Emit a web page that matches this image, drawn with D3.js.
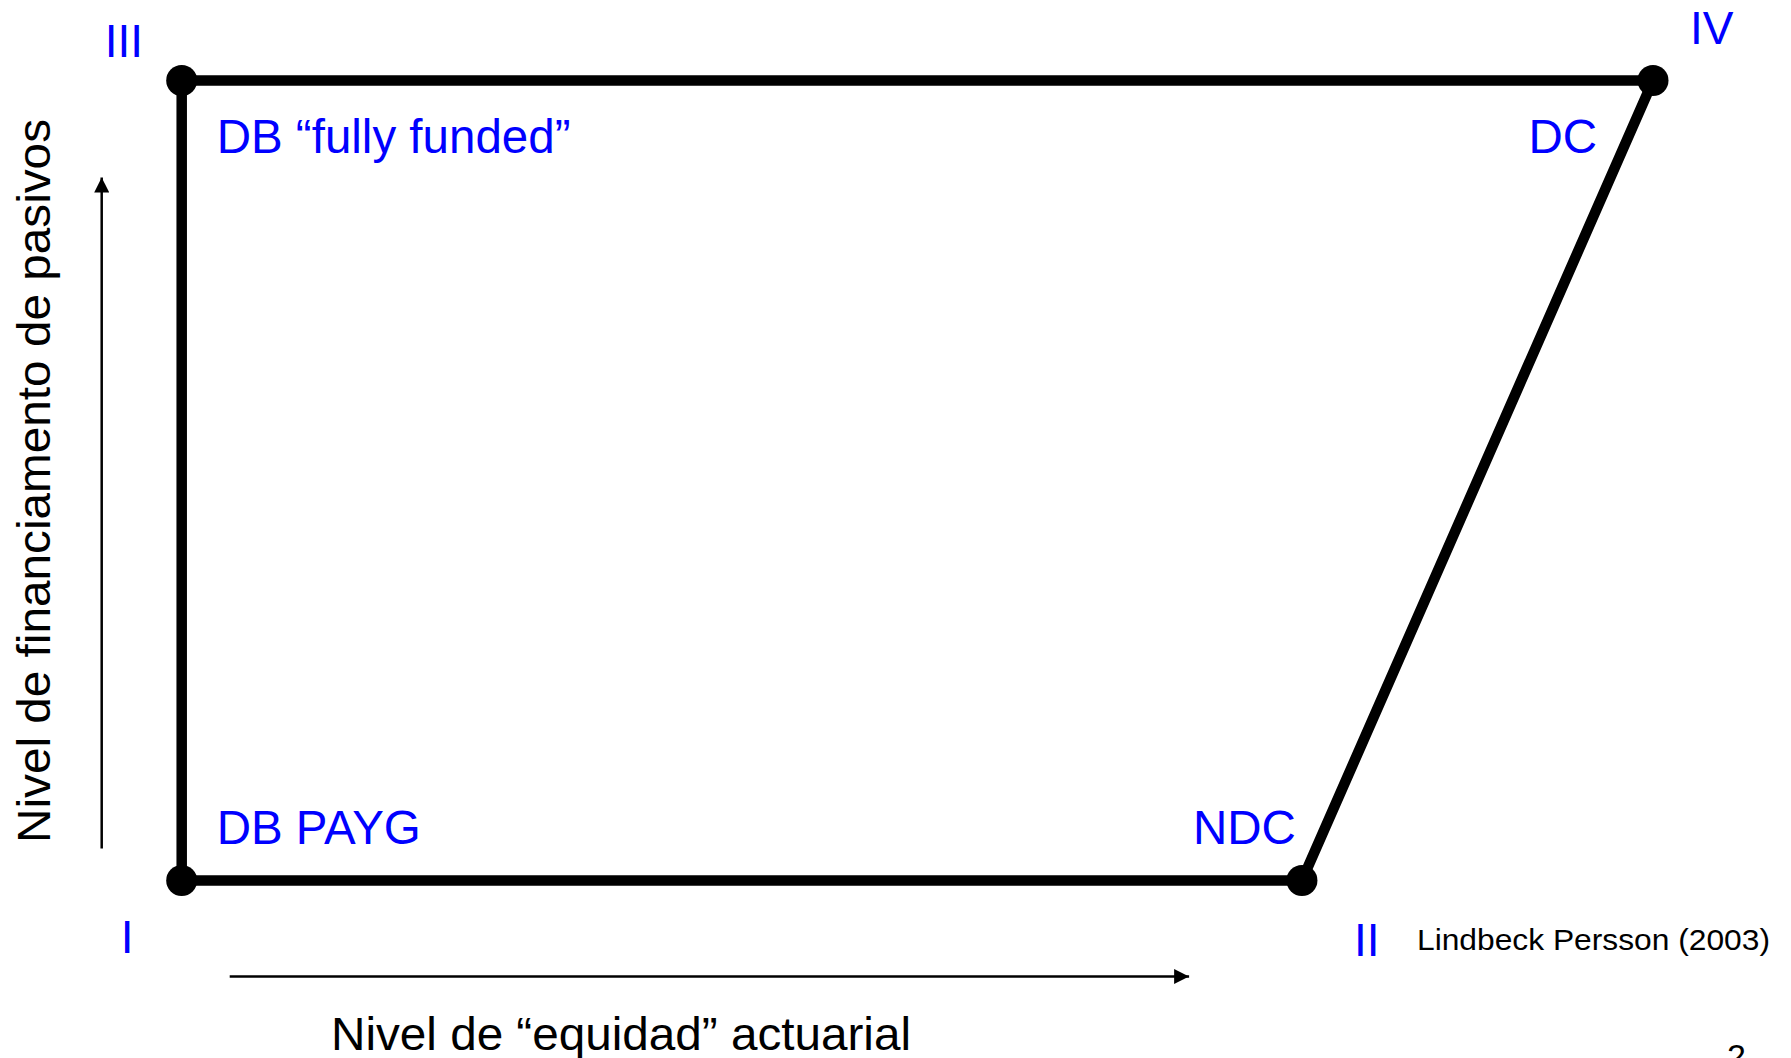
<!DOCTYPE html>
<html>
<head>
<meta charset="utf-8">
<script src="https://cdn.jsdelivr.net/npm/d3@7"></script>
<style>
  html, body { margin: 0; padding: 0; background: #fff; overflow: hidden; }
  svg { display: block; }
  text { font-family: "Liberation Sans", Arial, Helvetica, sans-serif; }
</style>
</head>
<body>
<svg id="chart" width="1791" height="1058"></svg>
<script>
// ---- data ----
const cornerNames = ["I", "II", "III", "IV"];
const equity = [0, 0.7614, 0, 1];        // actuarial "equity" level (x)
const funding = [0, 0, 1, 1];            // liability funding level (y)
const systemNames = ["DB PAYG", "NDC", "DB \u201cfully funded\u201d", "DC"];
const outline = ["I", "II", "IV", "III", "I"];
const xTitle = "Nivel de \u201cequidad\u201d actuarial";
const yTitle = "Nivel de financiamento de pasivos";
const source = "Lindbeck Persson (2003)";
const pageNo = "2";

// ---- scales ----
const x = d3.scaleLinear().domain([0, 1]).range([181.7, 1653]);
const y = d3.scaleLinear().domain([0, 1]).range([880.5, 80.5]);

const svg = d3.select("#chart");
const blue = "#0000ff";

const pts = cornerNames.map((n, i) => ({ name: n, ex: equity[i], fu: funding[i], sys: systemNames[i] }));
const byName = Object.fromEntries(pts.map(p => [p.name, p]));

// arrow marker
const defs = svg.append("defs");
defs.append("marker").attr("id", "arr").attr("viewBox", "0 0 10 10")
  .attr("refX", 10).attr("refY", 5).attr("markerWidth", 15).attr("markerHeight", 15)
  .attr("markerUnits", "userSpaceOnUse").attr("orient", "auto")
  .append("path").attr("d", "M0,0 L10,5 L0,10 Z").attr("fill", "#000");

// axis arrows
svg.append("line")
  .attr("x1", x(0) - 80).attr("y1", y(0) - 32)
  .attr("x2", x(0) - 80).attr("y2", y(1) + 97)
  .attr("stroke", "#000").attr("stroke-width", 2.5).attr("marker-end", "url(#arr)");
svg.append("line")
  .attr("x1", x(0) + 48).attr("y1", y(0) + 96)
  .attr("x2", x(0.6847)).attr("y2", y(0) + 96)
  .attr("stroke", "#000").attr("stroke-width", 2.5).attr("marker-end", "url(#arr)");

// outline
const lineGen = d3.line().x(n => x(byName[n].ex)).y(n => y(byName[n].fu));
svg.append("path").attr("d", lineGen(outline))
  .attr("fill", "none").attr("stroke", "#000").attr("stroke-width", 10.5)
  .attr("stroke-linejoin", "miter");

// corner dots
svg.selectAll("circle.dot").data(pts).join("circle").attr("class", "dot")
  .attr("cx", d => x(d.ex)).attr("cy", d => y(d.fu)).attr("r", 15.5).attr("fill", "#000");

// corner roman numerals
const romanOff = {
  I: [-61, 72], II: [52, 75], III: [-77, -24], IV: [37, -37]
};
svg.selectAll("text.roman").data(pts).join("text").attr("class", "roman")
  .attr("x", d => x(d.ex) + romanOff[d.name][0])
  .attr("y", d => y(d.fu) + romanOff[d.name][1])
  .attr("font-size", 46).attr("fill", blue)
  .text(d => d.name);

// system labels
const sysOff = {
  I: [35, -37, "start"], II: [-6, -37, "end"], III: [35, 72, "start"], IV: [-56, 72, "end"]
};
svg.selectAll("text.sys").data(pts).join("text").attr("class", "sys")
  .attr("x", d => x(d.ex) + sysOff[d.name][0])
  .attr("y", d => y(d.fu) + sysOff[d.name][1])
  .attr("text-anchor", d => sysOff[d.name][2])
  .attr("font-size", 47.5).attr("fill", blue)
  .text(d => d.sys);

// axis titles
svg.append("text")
  .attr("x", 331).attr("y", 1050)
  .attr("font-size", 46).attr("fill", "#000")
  .attr("textLength", 580).attr("lengthAdjust", "spacingAndGlyphs")
  .text(xTitle);
svg.append("text")
  .attr("transform", "translate(50,843) rotate(-90)")
  .attr("font-size", 47).attr("fill", "#000")
  .attr("textLength", 724).attr("lengthAdjust", "spacingAndGlyphs")
  .text(yTitle);

// source + page number
svg.append("text")
  .attr("x", 1417).attr("y", 950)
  .attr("font-size", 30).attr("fill", "#000")
  .attr("textLength", 353).attr("lengthAdjust", "spacingAndGlyphs")
  .text(source);
svg.append("text")
  .attr("x", 1727).attr("y", 1068)
  .attr("font-size", 34).attr("fill", "#000")
  .text(pageNo);
</script>
</body>
</html>
